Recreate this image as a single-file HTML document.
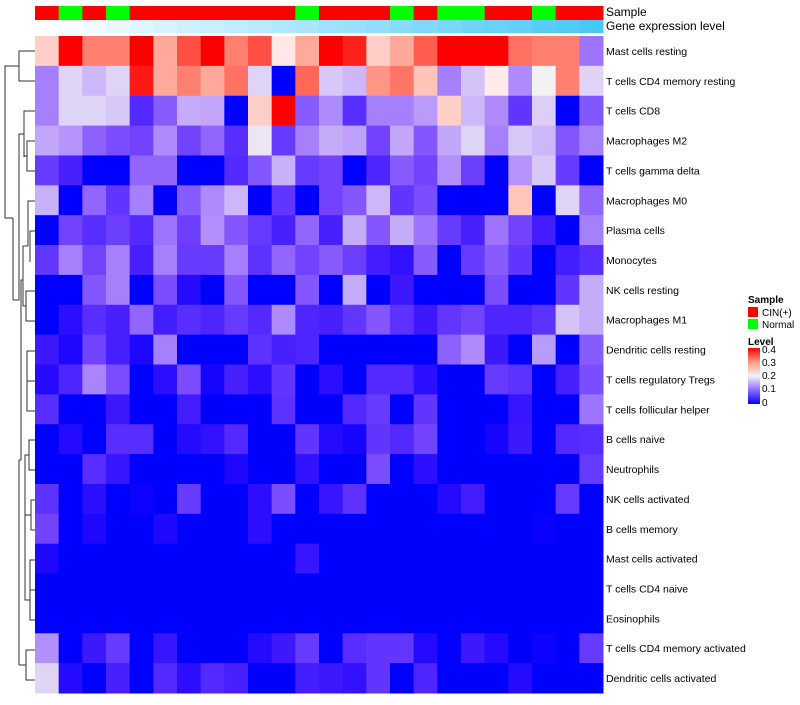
<!DOCTYPE html>
<html><head><meta charset="utf-8"><style>
body{margin:0;background:#fff;font-family:"Liberation Sans",sans-serif;}
svg text{font-family:"Liberation Sans",sans-serif;}
</style></head><body>
<svg id="chart" width="800" height="700">
<defs><linearGradient id="lg" x1="0" y1="1" x2="0" y2="0">
<stop offset="0" stop-color="#0000ff"/><stop offset="0.25" stop-color="#8a6cff"/><stop offset="0.5" stop-color="#f2f2f2"/><stop offset="0.75" stop-color="#ff9a80"/><stop offset="1" stop-color="#ff0000"/></linearGradient></defs>
<g id="dendro" stroke="#333" stroke-width="1" fill="none">
<path d="M35,51 H19 V81 H35"/>
<path d="M19,66 H5 V218 H13"/>
<path d="M35,111 H24 V157"/><path d="M35,141 H27 V171 H35"/><path d="M27,156 H24"/>
<path d="M24,134 H19 V300 H13"/>
<path d="M13,218 V300"/>
<path d="M35,201 H28 V246"/><path d="M35,231 H30 V262"/>
<path d="M35,291 H26 V321 H35"/><path d="M26,306 H23 V246 H28"/>
<path d="M35,351 H27 V411 H35"/><path d="M27,381 H35"/>
<path d="M23,280 H21 V460"/>
<path d="M35,440 H29 V470 H35"/><path d="M29,455 H25 V520"/>
<path d="M35,500 H31 V530 H35"/><path d="M31,515 H25"/>
<path d="M35,560 H30 V620 H35"/><path d="M30,590 H35"/><path d="M30,600 H25 V520"/>
<path d="M21,460 H19 V665"/>
<path d="M35,650 H26 V680 H35"/><path d="M26,665 H19"/>
</g>
<g id="cells"></g>
<g id="labels"></g>
<text x="606" y="16" font-size="12">Sample</text>
<text x="606" y="30" font-size="12">Gene expression level</text>
<g>
<text x="748" y="303" font-size="10" font-weight="bold">Sample</text>
<rect x="748" y="307" width="10" height="10" fill="#ff0000"/>
<text x="762" y="316" font-size="10">CIN(+)</text>
<rect x="748" y="319" width="10" height="10" fill="#00ff00"/>
<text x="762" y="328" font-size="10">Normal</text>
<text x="748" y="345" font-size="10" font-weight="bold">Level</text>
<rect x="748" y="348" width="12" height="56" fill="url(#lg)"/>
<text x="762" y="353" font-size="10">0.4</text>
<text x="762" y="379" font-size="10">0.2</text>
<text x="762" y="366" font-size="10">0.3</text>
<text x="762" y="392" font-size="10">0.1</text>
<text x="762" y="406" font-size="10">0</text>
</g>
</svg>
<script>
const rowNames=["Mast cells resting","T cells CD4 memory resting","T cells CD8","Macrophages M2","T cells gamma delta","Macrophages M0","Plasma cells","Monocytes","NK cells resting","Macrophages M1","Dendritic cells resting","T cells regulatory  Tregs","T cells follicular helper","B cells naive","Neutrophils","NK cells activated","B cells memory","Mast cells activated","T cells CD4 naive","Eosinophils","T cells CD4 memory activated","Dendritic cells activated"];
const sampleGroups=["C","N","C","N","C","C","C","C","C","C","C","N","C","C","C","N","C","N","N","C","C","N","C","C"];
const geneLevel=[0,0.04,0.08,0.13,0.17,0.21,0.26,0.3,0.34,0.39,0.43,0.47,0.52,0.56,0.6,0.65,0.69,0.73,0.78,0.82,0.86,0.91,0.95,1];
// level values on 0..10 scale (value = level*0.04)
const r0=[6,10,8,8,10,7,9,10,8,9,5.3,7,10,9.7,6,7,8.7,10,10,10,8.3,8,8,2.8];
const r1=[3,4.5,4,4.5,9.8,7,8,7,8.3,4.5,0,8.5,4.3,4,7.5,8.2,6.3,3,4.2,5.2,3.2,5,8,4.5];
const r2=[3,4.5,4.5,4.3,1.2,2.3,3.8,3.7,0,6,10,2.3,3.2,1.3,3,3,3.5,6,4,3.2,1.5,4.4,0,2.2];
const r3=[3.7,3.4,2.4,2,1.8,3.2,1.8,2.5,1.3,4.8,1.6,3,3.8,3.6,1.8,3.7,2.2,3.7,4.5,3,4.3,4,2.2,3];
const r4=[1.6,1,0,0,2.5,2.5,0,0,1.2,2.2,3.9,1.6,1.8,0,1.1,2.3,1.8,3.3,1.7,0,3.4,4.3,1.6,0];
const r5=[3.9,0,2.5,1.5,3,0,2.3,3.2,4,0,1.5,0,1.8,2.2,4,1.5,2,0,0,0,6.3,0,4.5,2.5];
const r6=[0,1.8,1.3,1.7,1.2,2.8,1.7,3.3,2.2,1.6,1,2.5,1,3.8,2.2,3.8,2.8,1.6,1,2.8,1.8,0.9,0,3];
const r7=[1.5,3,1.8,3,1,3,1.6,1.6,3,1.4,2.5,1.8,2.3,1.7,0.9,0.6,2.3,0,1.6,2.3,1.5,0,0.9,1.3];
const r8=[0,0,2.2,3,0,2,0.4,0,2.2,0,0,2.2,0,3.8,0,0.8,0,0,0,2,0,0,1.5,3.8];
const r9=[0,0.5,1.3,1,2.5,0.9,1.3,1.1,1.6,1.2,3.2,1.1,1,1.5,2.2,1.4,0.8,1.5,1.8,1.1,1.1,1.4,4.2,3.8];
const r10=[0.8,0.3,1.8,1,0.3,3,0,0,0,1.4,1,1.1,0,0,0,0,0,2.4,3.2,0.8,0,3.5,0,2.3];
const r11=[0.4,1.1,3.1,2,0,0.5,2,0.2,1,0.5,1.5,0,0.5,0,1.2,1.2,0.5,0,0,1.6,1.4,0,1,2];
const r12=[1.3,0,0,0.8,0,0,0.9,0,0,0,1.4,0,0,1.2,1.6,0,1.5,0,0,0,0.7,0,0,2.8];
const r13=[0,0.4,0,1.3,1.3,0,0.4,0.6,1.2,0,0,1.5,0.4,0.2,1.5,1.2,1.8,0,0,0.2,0.8,0,1.2,1.3];
const r14=[0,0,1.3,0.7,0,0,0,0,0.3,0,0,0.6,0,0,2,0,0.5,0,0,0,0,0,0,1.6];
const r15=[1.4,0,0.5,0,0.1,0,1.6,0,0,0.5,2,0,0.7,1.4,0,0,0,0.4,0.9,0,0,0,1.6,0];
const r16=[1.8,0,0.3,0,0,0.3,0,0,0,0.5,0,0,0,0,0,0,0,0,0,0,0,0.05,0,0];
const r17=[0.3,0,0,0,0,0,0,0,0,0,0,0.7,0,0,0,0,0,0,0,0,0,0,0,0];
const r18=[0,0,0,0,0,0,0,0,0,0,0,0,0,0,0,0,0,0,0,0,0,0,0,0];
const r19=[0,0,0,0,0,0,0,0,0,0,0,0,0,0,0,0,0,0,0,0,0,0,0,0];
const r20=[3.3,0,0.8,1.6,0,0.7,0,0,0,0.4,0.8,1.6,0,1.3,1.5,1.5,0.4,0,0.8,0.4,0,0.1,0,1.6];
const r21=[4.5,0.4,0,1,0,1.2,0.5,1.2,1,0,0,0.9,0.8,0.6,1.5,0,1.1,0,0,0,0.4,0,0,0];
const matrix=[r0,r1,r2,r3,r4,r5,r6,r7,r8,r9,r10,r11,r12,r13,r14,r15,r16,r17,r18,r19,r20,r21];

const X0=35,X1=603,Y0=36,Y1=693;
const nC=24,nR=rowNames.length;
const cw=(X1-X0)/nC, rh=(Y1-Y0)/nR;
function xPos(c){return X0+c*cw;}
function yPos(r){return Y0+r*rh;}
function color(v){
  v=Math.max(0,Math.min(10,v));
  if(v<=5){const t=v/5;
    const r=Math.round(255*Math.pow(t,0.75)*0.95);
    const g=Math.round(242*Math.pow(t,1.25));
    const b=Math.round(255-13*Math.pow(t,3));
    return `rgb(${r},${g},${b})`;}
  const t=(v-5)/5;
  const g=Math.round(242*Math.pow(1-t,0.7));
  const b=Math.round(g*(0.8+0.2*(1-t)));
  return `rgb(255,${g},${b})`;
}
const NS="http://www.w3.org/2000/svg";
const cells=document.getElementById('cells');
const labels=document.getElementById('labels');
for(let c=0;c<nC;c++){
  const a=document.createElementNS(NS,'rect');
  a.setAttribute('x',xPos(c));a.setAttribute('y',6);a.setAttribute('width',cw+0.5);a.setAttribute('height',14);
  a.setAttribute('fill',sampleGroups[c]==="C"?"#ff0000":"#00ff00");
  
  
  cells.appendChild(a);
  const g=document.createElementNS(NS,'rect');
  const t=geneLevel[c];
  g.setAttribute('x',xPos(c));g.setAttribute('y',20);g.setAttribute('width',cw+0.5);g.setAttribute('height',13);
  g.setAttribute('fill',`rgb(${Math.round(255-(255-72)*t)},${Math.round(255-(255-200)*t)},${Math.round(255-(255-248)*t)})`);
  
  
  cells.appendChild(g);
}
for(let r=0;r<nR;r++){
  for(let c=0;c<nC;c++){
    const e=document.createElementNS(NS,'rect');
    e.setAttribute('x',xPos(c));e.setAttribute('y',yPos(r));
    e.setAttribute('width',cw+0.5);e.setAttribute('height',rh+0.5);
    e.setAttribute('fill',color(matrix[r][c]));
    
    
    cells.appendChild(e);
  }
  const tx=document.createElementNS(NS,'text');
  tx.setAttribute('x',606);tx.setAttribute('y',yPos(r)+rh/2+4);
  tx.setAttribute('font-size','10.5');
  tx.setAttribute('xml:space','preserve');
  tx.textContent=rowNames[r];
  
  
  labels.appendChild(tx);
}
</script>
</body></html>
